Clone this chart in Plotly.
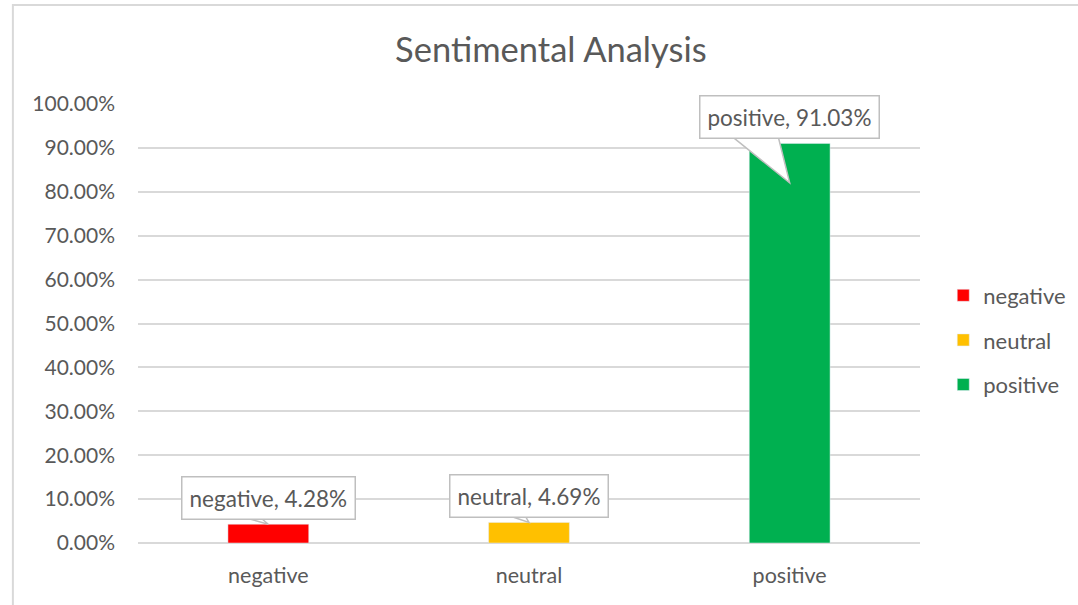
import plotly.graph_objects as go

categories = ["negative", "neutral", "positive"]
values = [0.0428, 0.0469, 0.9103]
colors = ["#FF0000", "#FFC000", "#00B050"]
label_texts = ["negative, 4.28%", "neutral, 4.69%", "positive, 91.03%"]
tick_vals = [i / 10 for i in range(11)]
tick_text = [f"{v*100:.2f}%" for v in tick_vals]

FONT = "Lato"
GRAY = "#595959"
CALLOUT_BORDER = "#BFBFBF"

fig = go.Figure()
for c, v, col in zip(categories, values, colors):
    fig.add_trace(go.Bar(
        x=[c], y=[v], name=c, marker_color=col, width=0.31,
        legendgroup=c, hoverinfo="skip",
    ))

# callout wedge geometry (category-unit offsets for base, tip drop in data units)
wedge_style = [(-0.12, -0.04, 0.0), (-0.10, -0.02, 0.0), (-0.23, -0.046, 0.09)]
BOX_OFFSET = 0.06
for i, (c, v, t, (b0, b1, drop)) in enumerate(zip(categories, values, label_texts, wedge_style)):
    base_y = v + BOX_OFFSET - 0.04
    tip_y = v - drop
    fig.add_shape(
        type="path", xref="x", yref="y",
        path=f"M {i + b0},{base_y} L {i},{tip_y} L {i + b1},{base_y} Z",
        fillcolor="white", line=dict(color=CALLOUT_BORDER, width=1.5), layer="above",
    )
    fig.add_annotation(
        x=c, y=v + BOX_OFFSET, text=t, showarrow=False,
        xanchor="center", yanchor="middle",
        bgcolor="white", bordercolor=CALLOUT_BORDER, borderwidth=1.5, borderpad=7,
        font=dict(family=FONT, size=22.5, color=GRAY),
    )

fig.add_shape(type="rect", xref="paper", yref="paper",
              x0=-0.16, x1=1.4, y0=-0.4, y1=1.2255,
              line=dict(color="#D9D9D9", width=2), fillcolor="rgba(0,0,0,0)", layer="below")

fig.update_layout(
    width=1078, height=605,
    margin=dict(l=138, r=158, t=104, b=62, autoexpand=False),
    paper_bgcolor="white", plot_bgcolor="white",
    barmode="overlay",
    title=dict(text="Sentimental Analysis", x=0.511, xanchor="center", y=0.917, yanchor="middle",
               font=dict(family=FONT, size=34.5, color=GRAY)),
    font=dict(family=FONT, color=GRAY, size=21),
    legend=dict(x=0.875, y=0.438, xref="container", yref="container",
                xanchor="left", yanchor="middle",
                font=dict(family=FONT, size=22, color=GRAY), tracegroupgap=13,
                itemwidth=30),
    showlegend=True,
)
fig.update_xaxes(showgrid=False, showline=False, ticks="", tickfont=dict(size=21.5, color=GRAY),
                 ticklabelstandoff=17)
fig.update_yaxes(range=[0, 1], tickvals=tick_vals, ticktext=tick_text,
                 showgrid=True, gridcolor="#D9D9D9", gridwidth=1.5,
                 zeroline=True, zerolinecolor="#D9D9D9", zerolinewidth=1.5,
                 showline=False, ticks="", tickfont=dict(size=21, color=GRAY),
                 ticklabelstandoff=22)

fig.write_html("out.html", config={"displayModeBar": False},
               post_script="document.body.style.margin='0';")
